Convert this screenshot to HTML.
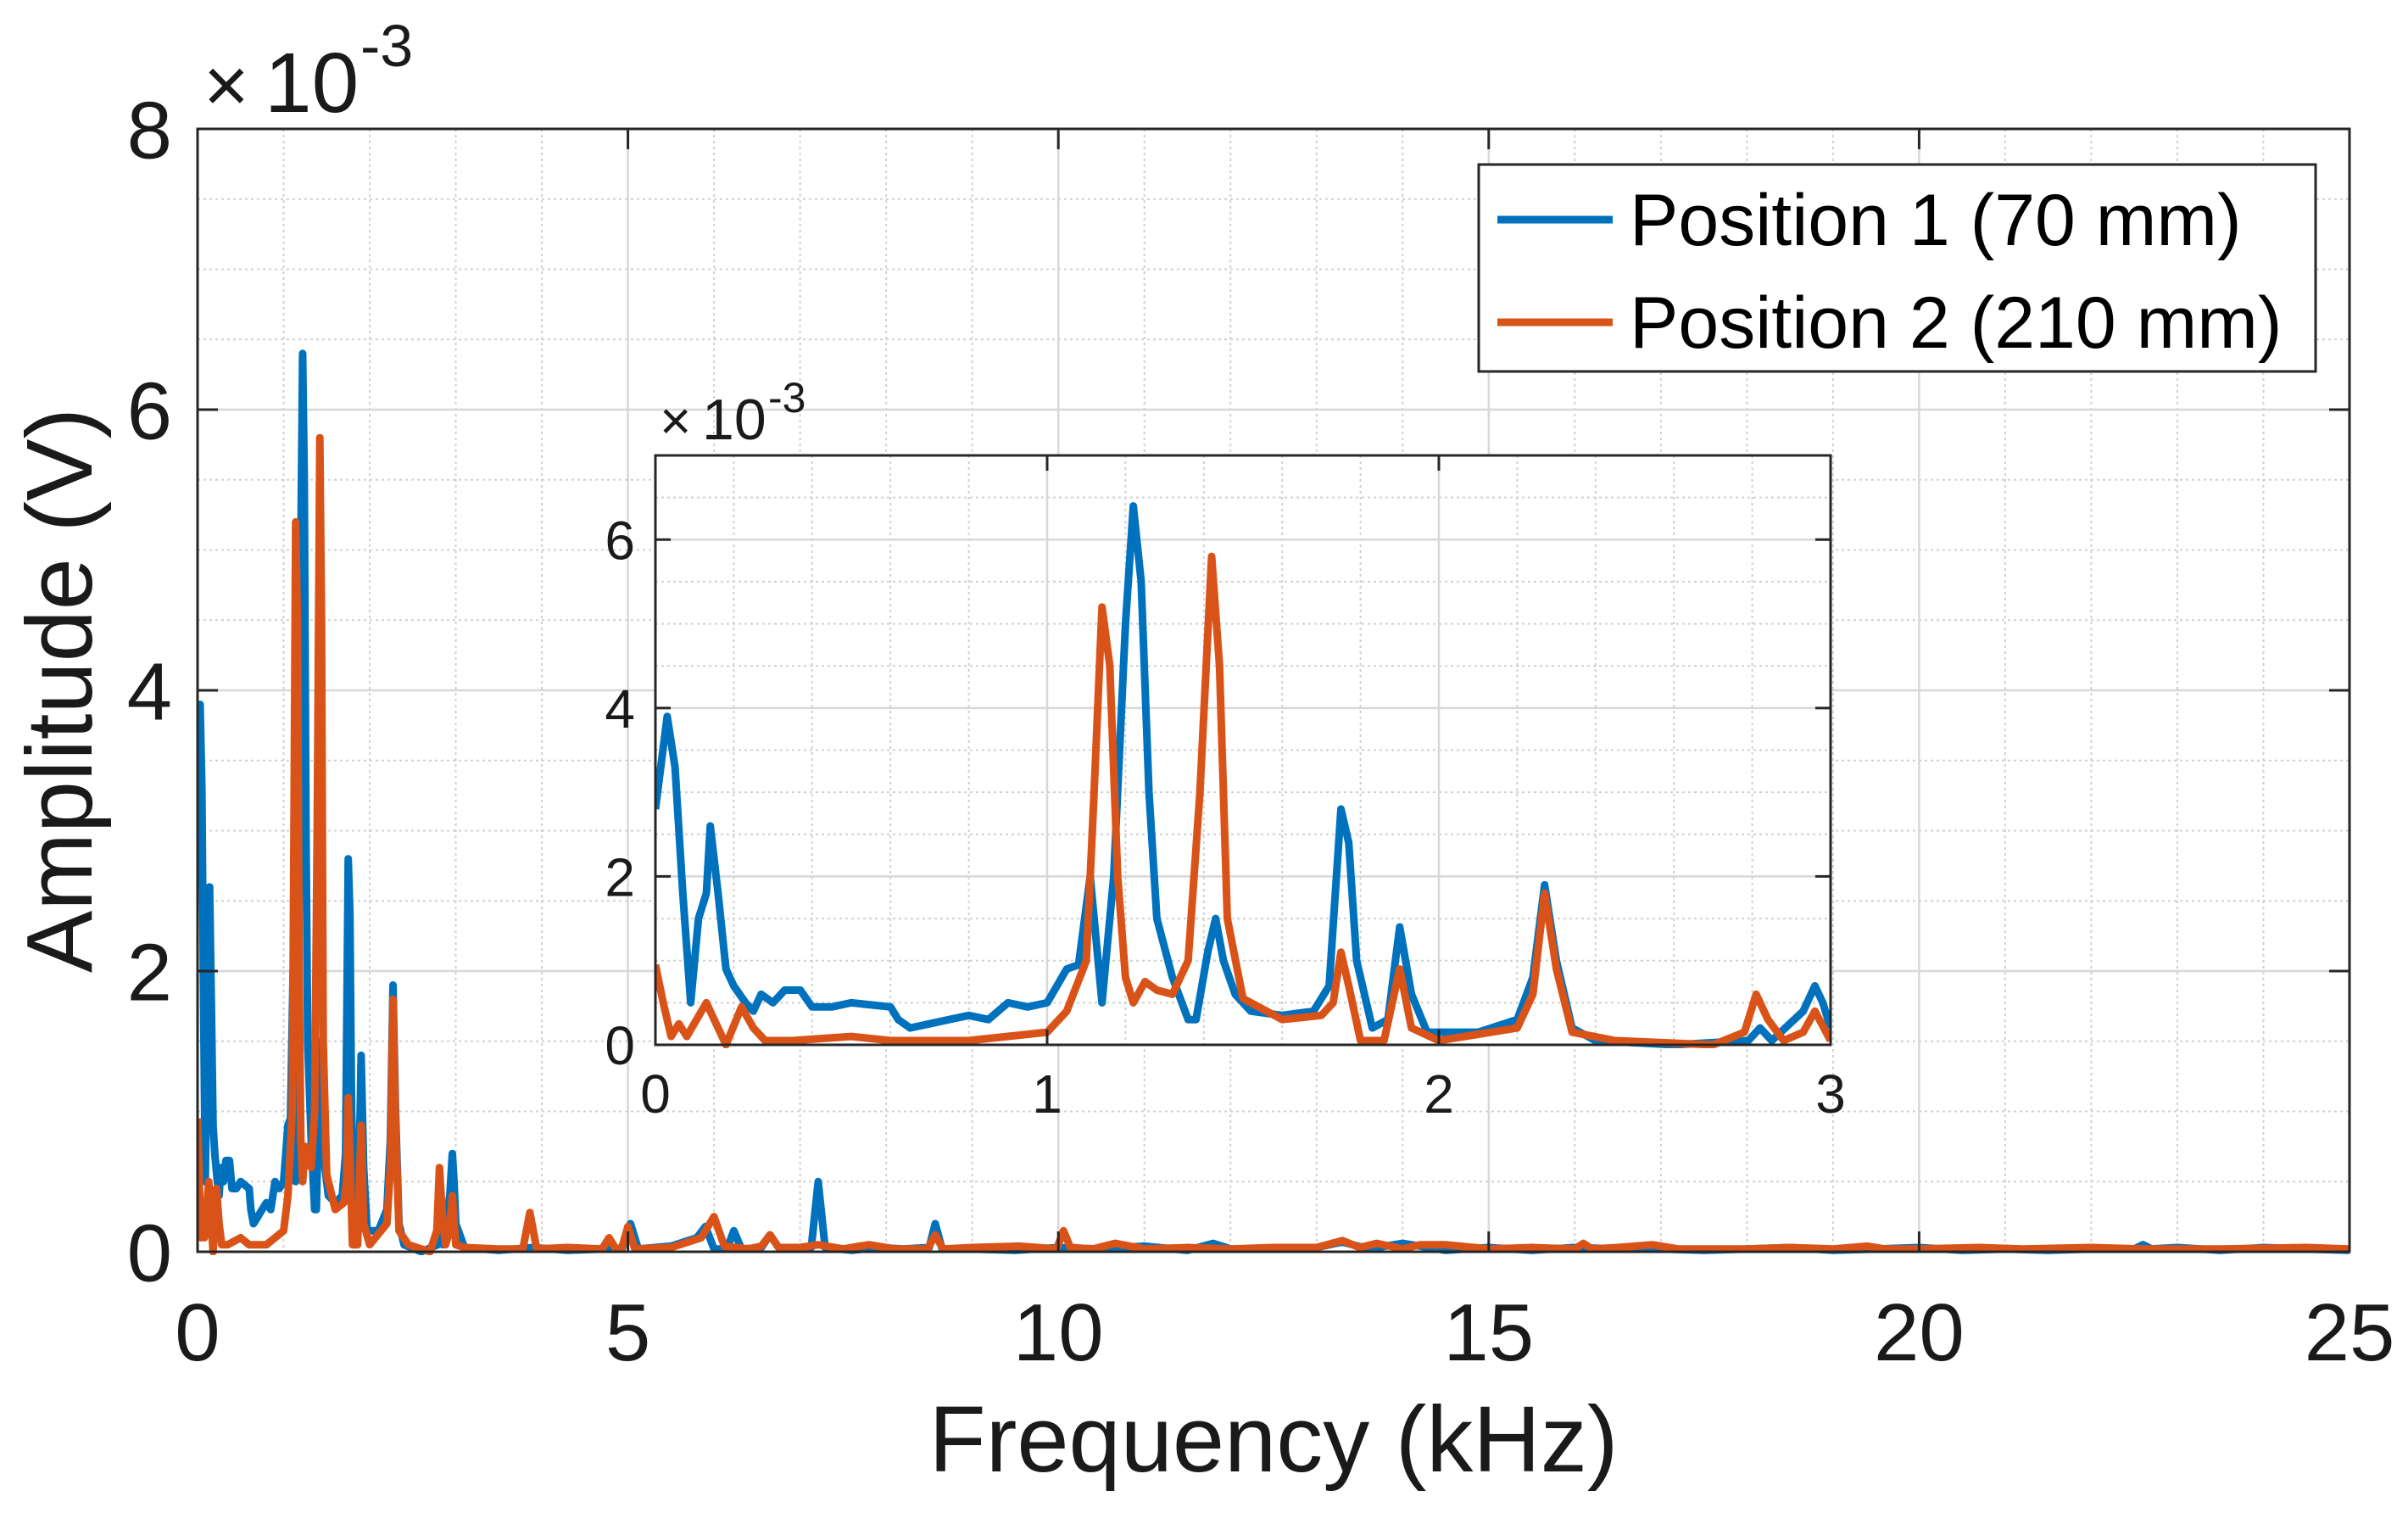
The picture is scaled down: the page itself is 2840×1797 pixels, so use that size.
<!DOCTYPE html>
<html><head><meta charset="utf-8">
<style>
html,body{margin:0;padding:0;background:#fff;}
svg{display:block;font-family:"Liberation Sans",Arial,sans-serif;}
</style></head>
<body>
<svg id="chart" width="2840" height="1797" viewBox="0 0 2840 1797" xmlns="http://www.w3.org/2000/svg">
<rect x="0" y="0" width="2840" height="1797" fill="#fff"/>
</svg>
<script>
// ---- data (frequency in kHz, amplitude in 1e-3 V) ----
const blueFreq = [0,0.03,0.05,0.07,0.09,0.11,0.13,0.14,0.16,0.18,0.2,0.23,0.25,0.27,0.3,0.33,0.37,0.4,0.45,0.5,0.6,0.62,0.65,0.7,0.75,0.8,0.85,0.9,0.95,1.0,1.05,1.08,1.11,1.14,1.17,1.2,1.22,1.24,1.26,1.28,1.32,1.36,1.38,1.41,1.43,1.45,1.48,1.52,1.6,1.68,1.72,1.75,1.77,1.79,1.83,1.87,1.9,1.93,1.97,2.1,2.2,2.24,2.27,2.3,2.34,2.4,2.6,2.79,2.82,2.85,2.93,2.96,2.98,3.0];
const blueAmp  = [2.8,3.9,3.3,1.8,0.5,1.5,1.8,2.6,1.8,0.9,0.7,0.5,0.4,0.6,0.5,0.65,0.65,0.45,0.45,0.5,0.45,0.3,0.2,0.25,0.3,0.35,0.3,0.5,0.45,0.5,0.9,0.95,2.0,0.5,2.0,5.0,6.4,5.5,3.0,1.5,0.8,0.3,0.3,1.1,1.5,1.0,0.6,0.4,0.35,0.4,0.7,2.8,2.4,1.0,0.2,0.3,1.4,0.6,0.15,0.15,0.3,0.8,1.9,1.0,0.2,0.05,0.0,0.05,0.2,0.05,0.4,0.7,0.5,0.2];
const orangeFreq = [0,0.02,0.04,0.06,0.08,0.13,0.16,0.18,0.22,0.25,0.28,0.35,0.5,0.6,0.8,1.0,1.05,1.1,1.12,1.14,1.16,1.18,1.2,1.22,1.25,1.28,1.32,1.36,1.39,1.42,1.44,1.46,1.5,1.6,1.7,1.73,1.75,1.77,1.8,1.86,1.9,1.93,2.0,2.2,2.24,2.27,2.3,2.34,2.45,2.7,2.78,2.81,2.84,2.88,2.93,2.96,3.0];
const orangeAmp  = [0.95,0.5,0.1,0.25,0.1,0.5,0.2,0.0,0.45,0.2,0.05,0.05,0.1,0.05,0.05,0.15,0.4,1.0,3.0,5.2,4.5,2.0,0.8,0.5,0.75,0.65,0.6,1.0,3.0,5.8,4.5,1.5,0.55,0.3,0.35,0.5,1.1,0.7,0.05,0.05,0.9,0.2,0.05,0.2,0.6,1.8,0.9,0.15,0.05,0.0,0.15,0.6,0.3,0.05,0.15,0.4,0.05];
// high-frequency part of the main spectrum (> 3 kHz)
const blueHiFreq = [3.1,3.5,3.9,4.3,4.7,4.93,5.03,5.12,5.5,5.8,5.9,6.0,6.15,6.23,6.32,6.55,6.65,6.75,7.0,7.13,7.21,7.29,7.6,7.9,8.2,8.5,8.57,8.65,9.0,9.5,10.0,10.5,11.0,11.5,11.8,12.0,12.5,13.0,13.3,13.6,14.0,14.5,15.0,15.5,16.0,16.5,17.0,17.5,18.0,18.5,19.0,19.5,20.0,20.5,21.0,21.5,22.0,22.5,22.6,22.7,23.0,23.5,24.0,24.5,25];
const blueHiAmp  = [0.03,0.01,0.03,0.01,0.02,0.02,0.2,0.02,0.04,0.1,0.18,0.02,0.02,0.15,0.02,0.03,0.12,0.03,0.02,0.03,0.5,0.03,0.01,0.03,0.02,0.03,0.2,0.02,0.02,0.01,0.03,0.02,0.04,0.01,0.06,0.02,0.02,0.03,0.07,0.02,0.06,0.01,0.03,0.01,0.03,0.02,0.02,0.01,0.02,0.03,0.01,0.02,0.03,0.01,0.02,0.01,0.02,0.02,0.05,0.02,0.03,0.01,0.03,0.02,0.01];
const orangeHiFreq = [3.1,3.5,3.78,3.86,3.94,4.3,4.7,4.78,4.86,4.93,5.0,5.08,5.5,5.85,6.0,6.12,6.4,6.55,6.65,6.75,7.0,7.21,7.5,7.8,8.1,8.48,8.57,8.66,9.0,9.55,9.98,10.06,10.14,10.4,10.66,11.0,11.5,12.0,12.5,13.0,13.3,13.5,13.7,14.0,14.2,14.5,15.0,15.5,16.0,16.1,16.2,16.5,16.9,17.2,18.0,18.5,19.0,19.4,19.6,20.0,20.7,21.2,22.0,22.6,23.5,24.5,25];
const orangeHiAmp  = [0.03,0.02,0.02,0.28,0.02,0.03,0.02,0.1,0.02,0.03,0.18,0.02,0.03,0.1,0.25,0.04,0.02,0.04,0.12,0.03,0.03,0.05,0.02,0.05,0.02,0.02,0.12,0.02,0.03,0.04,0.02,0.15,0.03,0.02,0.06,0.02,0.03,0.02,0.03,0.03,0.08,0.03,0.06,0.02,0.05,0.05,0.02,0.03,0.02,0.06,0.02,0.03,0.05,0.02,0.02,0.03,0.02,0.04,0.02,0.02,0.03,0.02,0.03,0.02,0.02,0.03,0.02];
const mainXTicks = [0,5,10,15,20,25];
const mainYTicks = [0,2,4,6,8];
const insetXTicks = [0,1,2,3];
const insetYTicks = [0,2,4,6];

const NS = "http://www.w3.org/2000/svg";
const svg = document.getElementById('chart');
const BLUE = "#0072BD", ORANGE = "#D95319", AX = "#262626";
function el(tag, attrs, parent){ const e=document.createElementNS(NS,tag); for(const k in attrs) e.setAttribute(k,attrs[k]); (parent||svg).appendChild(e); return e; }

function makeAxes(cfg){
  const g = el('g',{});
  
  
  const sx = v => cfg.x0 + (v - cfg.xmin)/(cfg.xmax - cfg.xmin)*(cfg.x1 - cfg.x0);
  const sy = v => cfg.y1 - (v - cfg.ymin)/(cfg.ymax - cfg.ymin)*(cfg.y1 - cfg.y0);
  el('rect',{x:cfg.x0,y:cfg.y0,width:cfg.x1-cfg.x0,height:cfg.y1-cfg.y0,fill:'#fff'},g);
  for(let v=cfg.xmin; v<=cfg.xmax+1e-9; v+=cfg.xminor){ const X=sx(v); el('line',{x1:X,x2:X,y1:cfg.y0,y2:cfg.y1,stroke:'#d0d0d0','stroke-width':2,'stroke-dasharray':'3 4'},g); }
  for(let v=cfg.ymin; v<=cfg.ymax+1e-9; v+=cfg.yminor){ const Y=sy(v); el('line',{x1:cfg.x0,x2:cfg.x1,y1:Y,y2:Y,stroke:'#d0d0d0','stroke-width':2,'stroke-dasharray':'3 4'},g); }
  cfg.xticks.forEach(v=>{ const X=sx(v); el('line',{x1:X,x2:X,y1:cfg.y0,y2:cfg.y1,stroke:'#d8d8d8','stroke-width':2.5},g); });
  cfg.yticks.forEach(v=>{ const Y=sy(v); el('line',{x1:cfg.x0,x2:cfg.x1,y1:Y,y2:Y,stroke:'#d8d8d8','stroke-width':2.5},g); });
  const clipId = cfg.name+'-clip';
  const cp = el('clipPath',{id:clipId},g);
  el('rect',{x:cfg.x0,y:cfg.y0-10,width:cfg.x1-cfg.x0,height:cfg.y1-cfg.y0+14},cp);
  cfg.series.forEach(s=>{
    let d=''; s.f.forEach((f,i)=>{ d += (i?'L':'M') + sx(f).toFixed(1) + ' ' + sy(s.a[i]).toFixed(1); });
    const p = el('path',{d:d,fill:'none',stroke:s.color,'stroke-width':cfg.lw,'stroke-linejoin':'round','clip-path':'url(#'+clipId+')'},g);
    
    
  });
  el('rect',{x:cfg.x0,y:cfg.y0,width:cfg.x1-cfg.x0,height:cfg.y1-cfg.y0,fill:'none',stroke:AX,'stroke-width':3},g);
  cfg.xticks.forEach(v=>{ const X=sx(v);
    el('line',{x1:X,x2:X,y1:cfg.y1,y2:cfg.y1-cfg.tl,stroke:AX,'stroke-width':3},g);
    el('line',{x1:X,x2:X,y1:cfg.y0,y2:cfg.y0+cfg.tl,stroke:AX,'stroke-width':3},g);
    const t = el('text',{x:X,y:cfg.y1+cfg.xlabOff,'font-size':cfg.fs,'text-anchor':'middle',fill:'#1a1a1a'},g);
    t.textContent = v;
    
    
  });
  cfg.yticks.forEach(v=>{ const Y=sy(v);
    el('line',{x1:cfg.x0,x2:cfg.x0+cfg.tl,y1:Y,y2:Y,stroke:AX,'stroke-width':3},g);
    el('line',{x1:cfg.x1,x2:cfg.x1-cfg.tl,y1:Y,y2:Y,stroke:AX,'stroke-width':3},g);
    const t = el('text',{x:cfg.x0-cfg.ylabOff,y:Y+cfg.fs*0.36,'font-size':cfg.fs,'text-anchor':'end',fill:'#1a1a1a'},g);
    t.textContent = v;
    
    
  });
  return g;
}

makeAxes({name:'main-axes',x0:233,x1:2771,y0:152,y1:1476,xmin:0,xmax:25,ymin:0,ymax:8,
  xminor:1,yminor:0.5,xticks:mainXTicks,yticks:mainYTicks,tl:24,fs:96,xlabOff:128,ylabOff:30,lw:9,
  series:[{name:'main-series-position-1',color:BLUE,f:blueFreq.concat(blueHiFreq),a:blueAmp.concat(blueHiAmp)},
          {name:'main-series-position-2',color:ORANGE,f:orangeFreq.concat(orangeHiFreq),a:orangeAmp.concat(orangeHiAmp)}]});

makeAxes({name:'inset-axes',x0:773,x1:2159,y0:537,y1:1232,xmin:0,xmax:3,ymin:0,ymax:7,
  xminor:0.2,yminor:0.5,xticks:insetXTicks,yticks:insetYTicks,tl:18,fs:64,xlabOff:80,ylabOff:24,lw:9,
  series:[{name:'inset-series-position-1',color:BLUE,f:blueFreq,a:blueAmp},
          {name:'inset-series-position-2',color:ORANGE,f:orangeFreq,a:orangeAmp}]});
</script>
<svg style="position:absolute;left:0;top:0" width="2840" height="1797" xmlns="http://www.w3.org/2000/svg" font-family="Liberation Sans, Arial, sans-serif">
  <g fill="#1a1a1a">
    <text x="240" y="132" font-size="92">×</text>
    <text x="312" y="132" font-size="100">10</text>
    <text x="425" y="78" font-size="70">-3</text>
  </g>
  <g fill="#1a1a1a">
    <text x="778" y="518" font-size="64">×</text>
    <text x="828" y="518" font-size="68">10</text>
    <text x="906" y="486" font-size="50">-3</text>
  </g>
  <text x="1502" y="1735" font-size="110" text-anchor="middle" fill="#1a1a1a">Frequency (kHz)</text>
  <text x="0" y="0" font-size="110" text-anchor="middle" fill="#1a1a1a" transform="translate(108,814) rotate(-90)">Amplitude (V)</text>
  <g>
    <rect x="1744" y="194" width="987" height="244" fill="#fff" stroke="#262626" stroke-width="3"/>
    <g>
      <line x1="1766" x2="1902" y1="259" y2="259" stroke="#0072BD" stroke-width="9"/>
      <text x="1922" y="289" font-size="86" fill="#000">Position 1 (70 mm)</text>
    </g>
    <g>
      <line x1="1766" x2="1902" y1="380" y2="380" stroke="#D95319" stroke-width="9"/>
      <text x="1922" y="410" font-size="86" fill="#000">Position 2 (210 mm)</text>
    </g>
  </g>
</svg>
</body></html>
